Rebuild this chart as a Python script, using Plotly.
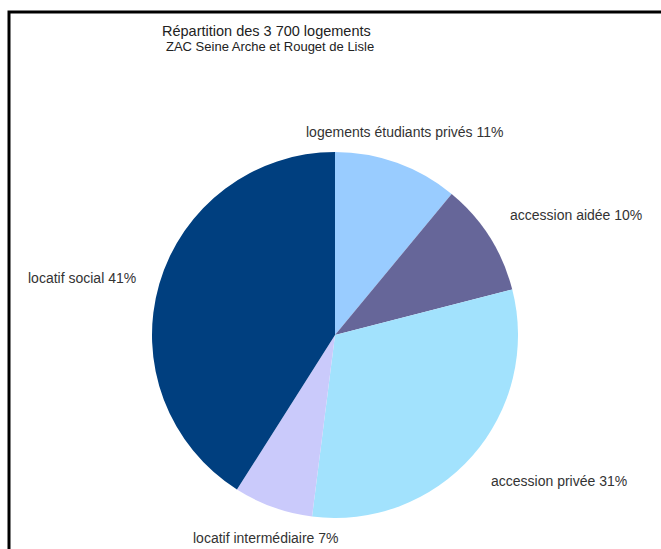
import math
import plotly.graph_objects as go

title = "Répartition des 3 700 logements"
subtitle = "ZAC Seine Arche et Rouget de Lisle"
categories = ["logements étudiants privés", "accession aidée", "accession privée",
              "locatif intermédiaire", "locatif social"]
shares = [11, 10, 31, 7, 41]
colors = ["#99CCFF", "#666699", "#A2E2FD", "#CACAFB", "#003F7F"]

W, H = 661, 549
FONT = "Liberation Sans, Arial, sans-serif"
# pie box in pixels
cx, cy, r = 335, 335, 183
px0, px1, py0, py1 = cx - r, cx + r, cy - r, cy + r

fig = go.Figure(go.Pie(
    labels=categories,
    values=shares,
    sort=False,
    direction="clockwise",
    rotation=0,
    marker=dict(colors=colors, line=dict(width=0)),
    textinfo="none",
    showlegend=False,
    hoverinfo="label+percent",
    domain=dict(x=[px0 / W, px1 / W], y=[1 - py1 / H, 1 - py0 / H]),
))

# Excel-style outside labels, placed on the ray through each slice's middle
annotations = []
total = sum(shares)
cum = 0.0
d = 1.12 * r
for lab, v in zip(categories, shares):
    mid = (cum + v / 2) / total * 2 * math.pi
    cum += v
    s, c = math.sin(mid), math.cos(mid)
    x_px = cx + d * s
    y_px = cy - d * c
    xa = "left" if s > 0.5 else ("right" if s < -0.5 else "center")
    ya = "bottom" if c > 0.5 else ("top" if c < -0.5 else "middle")
    annotations.append(dict(
        text=f"{lab} {v}%", x=x_px / W, y=1 - y_px / H, xref="paper", yref="paper",
        xanchor=xa, yanchor=ya, showarrow=False,
        font=dict(family=FONT, size=14, color="#333333"),
    ))

annotations += [
    dict(text=title, x=266 / W, y=1 - 31 / H, xref="paper", yref="paper",
         xanchor="center", yanchor="middle", showarrow=False,
         font=dict(family=FONT, size=14.5, color="#222222")),
    dict(text=subtitle, x=270 / W, y=1 - 47 / H, xref="paper", yref="paper",
         xanchor="center", yanchor="middle", showarrow=False,
         font=dict(family=FONT, size=13, color="#222222")),
]

fig.update_layout(
    width=W, height=H,
    margin=dict(l=0, r=0, t=0, b=0),
    paper_bgcolor="white",
    plot_bgcolor="white",
    annotations=annotations,
    shapes=[dict(type="rect", xref="paper", yref="paper",
                 x0=9 / W, x1=1.05, y0=-0.05, y1=1 - 12 / H,
                 line=dict(color="black", width=3), fillcolor="rgba(0,0,0,0)")],
)

fig.write_html("out.html", config={"displayModeBar": False},
               post_script="document.body.style.margin='0';")
